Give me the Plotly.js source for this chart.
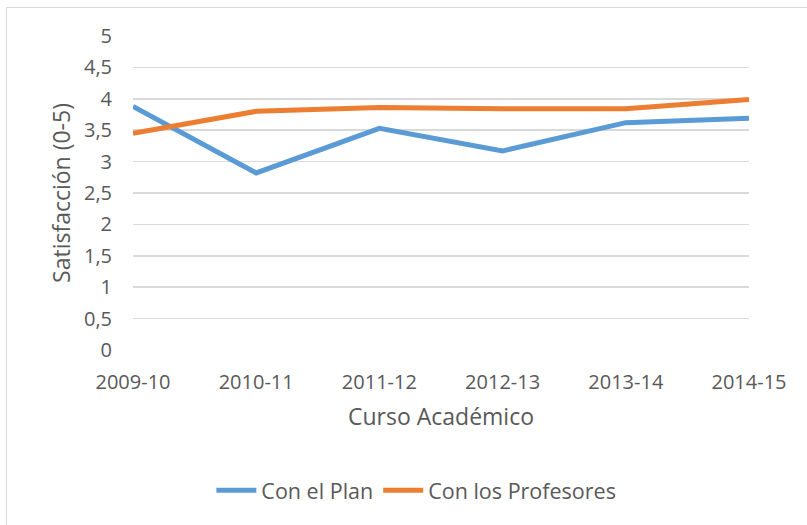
<!DOCTYPE html>
<html>
<head>
<meta charset="utf-8">
<script src="https://cdn.plot.ly/plotly-3.0.1.min.js"></script>
<style>
  html, body { margin: 0; padding: 0; background: #fff; }
  #wrap { position: relative; width: 807px; height: 525px; overflow: hidden; }
  #chart { position: absolute; left: 0; top: 0; width: 807px; height: 525px; }
  #frame { position: absolute; left: 6px; top: 7px; width: 820px; height: 540px;
           border-left: 1.5px solid #d9d9d9; border-top: 1.5px solid #d9d9d9; pointer-events: none; }
</style>
</head>
<body>
<div id="wrap">
  <div id="chart"></div>
  <div id="frame"></div>
</div>
<script>
const categories = ["2009-10", "2010-11", "2011-12", "2012-13", "2013-14", "2014-15"];
const conElPlan = [3.88, 2.82, 3.53, 3.17, 3.62, 3.69];
const conLosProfesores = [3.45, 3.80, 3.86, 3.84, 3.84, 3.99];
const seriesNames = ["Con el Plan", "Con los Profesores"];
const xTitle = "Curso Académico";
const yTitle = "Satisfacción (0-5)";

const font = "'Open Sans', sans-serif";
const txt = "#595959";

const traces = [
  { x: categories, y: conElPlan, name: seriesNames[0], type: "scatter", mode: "lines",
    line: { color: "#5B9BD5", width: 5 } },
  { x: categories, y: conLosProfesores, name: seriesNames[1], type: "scatter", mode: "lines",
    line: { color: "#ED7D31", width: 5 } }
];

const layout = {
  width: 807, height: 525,
  margin: { l: 133, r: 58, t: 36, b: 175 },
  paper_bgcolor: "#ffffff", plot_bgcolor: "#ffffff",
  separators: ",.",
  font: { family: font, color: txt, size: 20 },
  showlegend: true,
  legend: { orientation: "h", x: 0.46, xanchor: "center", y: -0.447, yanchor: "middle",
            font: { family: font, size: 21.5, color: txt }, itemwidth: 40 },
  xaxis: {
    type: "category", range: [0, 5], showgrid: false, zeroline: false,
    showline: false, ticks: "", ticklabelstandoff: 18,
    tickfont: { family: font, size: 20, color: txt },
    title: { text: xTitle, font: { family: font, size: 23, color: txt }, standoff: 14 },
    automargin: false
  },
  yaxis: {
    range: [0, 5], dtick: 0.5, tick0: 0, showgrid: true, gridcolor: "#d9d9d9", gridwidth: 1.5,
    zeroline: false, showline: false, ticks: "", ticklen: 0, ticklabelstandoff: 20,
    tickfont: { family: font, size: 20, color: txt },
    title: { text: yTitle, font: { family: font, size: 23, color: txt }, standoff: 6 },
    automargin: false
  }
};

Plotly.newPlot("chart", traces, layout, { displayModeBar: false, staticPlot: true });
</script>
</body>
</html>
